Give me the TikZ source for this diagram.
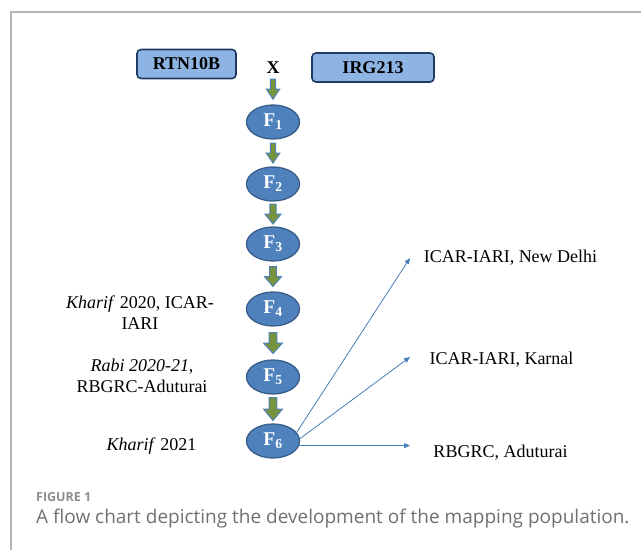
\documentclass[tikz,border=0pt]{standalone}
\usepackage{fontspec}
\setmainfont{Liberation Serif}
\newfontfamily\capfont{Open Sans}
\usetikzlibrary{arrows.meta,calc,shapes.geometric}
\definecolor{boxfill}{HTML}{8EB4E3}
\definecolor{navy}{HTML}{1F3A63}
\definecolor{ellfill}{HTML}{4F81BD}
\definecolor{ellborder}{HTML}{385D8A}
\definecolor{agreen}{HTML}{77933C}
\definecolor{ablue}{HTML}{4F81BD}
\definecolor{thinblue}{HTML}{4A7EBB}
\definecolor{framegray}{HTML}{B4B4B4}
\definecolor{capgray}{HTML}{707070}
\begin{document}
\begin{tikzpicture}[x=1pt,y=-1pt,
  every node/.style={inner sep=0pt},
  parent/.style={draw=navy, line width=1.6pt, fill=boxfill, rounded corners=4pt,
    minimum height=29pt, font=\fontsize{18}{21}\selectfont\bfseries},
  gen/.style={ellipse, draw=ellborder, line width=1.3pt, fill=ellfill,
    minimum width=53pt, minimum height=34pt, text=white,
    font=\fontsize{19.5}{22}\selectfont\bfseries},
  lab/.style={font=\fontsize{18}{21}\selectfont, align=center},
  thinarrow/.style={draw=thinblue, line width=0.8pt, -{Triangle[length=6pt,width=5pt]}},
  barrow/.pic={\draw[fill=agreen, draw=ablue, line width=1pt]
    (-3.8,-10) -- (3.8,-10) -- (3.8,0) -- (9.5,0) -- (0,10) -- (-9.5,0) -- (-3.8,0) -- cycle;}
]
\useasboundingbox (0,0) rectangle (641,550);
\draw[framegray, line width=1.2pt] (641,12) -- (11,12) -- (11,550);

\node[parent, minimum width=99pt] (p1) at (186.5,64) {RTN10B};
\node[parent, minimum width=122pt] (p2) at (373,67.5) {IRG213};
\node[font=\fontsize{18}{21}\selectfont\bfseries] (x) at (273,68) {X};

\node[gen] (F1) at (273,122) {F\textsubscript{1}};
\node[gen] (F2) at (273,184) {F\textsubscript{2}};
\node[gen] (F3) at (273,244) {F\textsubscript{3}};
\node[gen] (F4) at (273,309) {F\textsubscript{4}};
\node[gen] (F5) at (273,377) {F\textsubscript{5}};
\node[gen] (F6) at (273,441) {F\textsubscript{6}};

\pic[xscale=0.7] at ($(x.south)!0.5!(F1.north)$) {barrow};
\pic[xscale=0.72] at ($(F1.south)!0.5!(F2.north)$) {barrow};
\pic[xscale=0.85] at ($(F2.south)!0.5!(F3.north)$) {barrow};
\pic[xscale=0.9] at ($(F3.south)!0.5!(F4.north)$) {barrow};
\pic[yscale=1.05] at ($(F4.south)!0.5!(F5.north)$) {barrow};
\pic[yscale=1.15] at ($(F5.south)!0.5!(F6.north)$) {barrow};

\node[lab] (s4) at (140,313) {\textit{Kharif} 2020, ICAR-\\IARI};
\node[lab] (s5) at (142,375.5) {\textit{Rabi 2020-21},\\RBGRC-Aduturai};
\node[lab] (s6) at (151.5,446) {\textit{Kharif} 2021};

\node[lab] (l1) at (510.5,258) {ICAR-IARI, New Delhi};
\node[lab] (l2) at (501.5,360) {ICAR-IARI, Karnal};
\node[lab] (l3) at (500.5,453) {RBGRC, Aduturai};
\coordinate (t1) at (410,258);
\coordinate (t2) at (410,357);
\coordinate (t3) at (410,446);
\draw[thinarrow] (F6.20) -- (t1);
\draw[thinarrow] (F6.5) -- (t2);
\draw[thinarrow] (F6.-10) -- (F6.-10 -| t3);

\node[anchor=west, font=\capfont\fontsize{12.5}{15}\selectfont\bfseries, text=capgray!80] (fig) at (36,497) {FIGURE 1};
\node[anchor=west, font=\capfont\fontsize{19}{22}\selectfont, text=capgray] (cap) at (36,519) {A flow chart depicting the development of the mapping population.};
\end{tikzpicture}
\end{document}
